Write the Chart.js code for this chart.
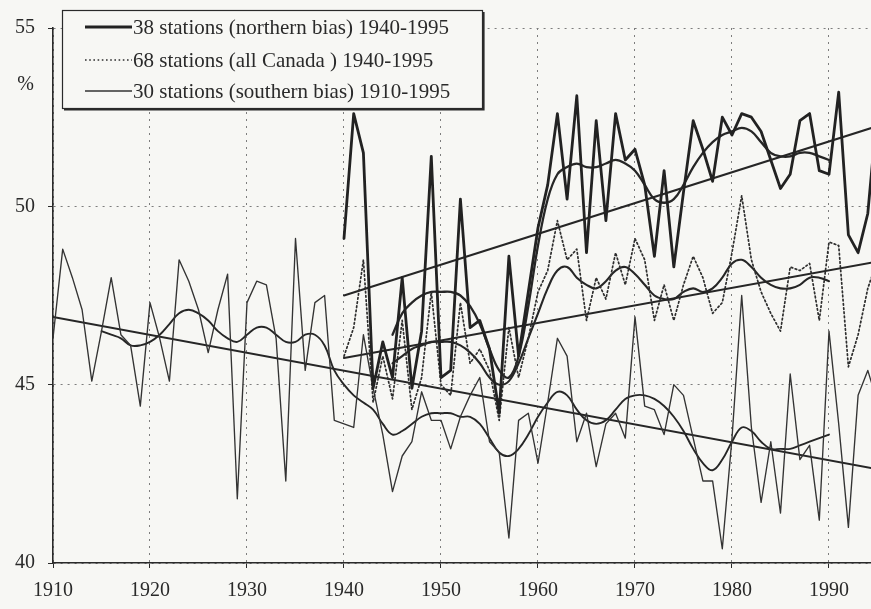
<!DOCTYPE html>
<html>
<head>
<meta charset="utf-8">
<script src="https://cdn.jsdelivr.net/npm/chart.js@4/dist/chart.umd.min.js"></script>
<style>
  html, body { margin: 0; padding: 0; background: #f7f7f4; }
  canvas { display: block; }
</style>
</head>
<body>
<canvas id="chart" width="871" height="609"></canvas>
<script>
// Annual values (%), one per year starting at the given first year
const northernFirstYear = 1940;
const northern = [
  49.1, 52.6, 51.5, 44.9, 46.2, 45.2, 48.0, 44.9, 46.5, 51.4,
  45.2, 45.4, 50.2, 46.6, 46.8, 46.0, 44.2, 48.6, 45.8, 47.6,
  49.4, 50.6, 52.6, 50.2, 53.1, 48.7, 52.4, 49.6, 52.6, 51.3,
  51.6, 50.6, 48.6, 51.0, 48.3, 50.4, 52.4, 51.6, 50.7, 52.5,
  52.0, 52.6, 52.5, 52.1, 51.3, 50.5, 50.9, 52.4, 52.6, 51.0,
  50.9, 53.2, 49.2, 48.7, 49.8, 52.8
];

const allCanadaFirstYear = 1940;
const allCanada = [
  45.8, 46.6, 48.5, 44.5, 45.8, 44.6, 46.8, 44.3, 45.2, 47.6,
  45.0, 44.7, 47.3, 45.6, 46.0, 45.4, 44.0, 46.6, 45.2, 46.3,
  47.6, 48.2, 49.6, 48.5, 48.8, 46.8, 48.0, 47.4, 48.7, 47.8,
  49.1, 48.5, 46.8, 47.8, 46.8, 47.8, 48.6, 48.0, 47.0, 47.3,
  48.7, 50.3, 48.5, 47.6, 47.0, 46.5, 48.3, 48.2, 48.4, 46.8,
  49.0, 48.9, 45.5, 46.4, 47.7, 48.5
];

const southernFirstYear = 1910;
const southern = [
  46.3, 48.8, 48.0, 47.1, 45.1, 46.5, 48.0, 46.4, 46.1, 44.4,
  47.3, 46.3, 45.1, 48.5, 47.9, 47.1, 45.9, 47.1, 48.1, 41.8,
  47.3, 47.9, 47.8, 46.3, 42.3, 49.1, 45.4, 47.3, 47.5, 44.0,
  43.9, 43.8, 46.4, 44.9, 43.6, 42.0, 43.0, 43.4, 44.8, 44.0,
  44.0, 43.2, 44.1, 44.7, 45.2, 43.4, 43.1, 40.7, 44.0, 44.2,
  42.8, 44.5, 46.3, 45.8, 43.4, 44.2, 42.7, 43.9, 44.2, 43.5,
  46.9, 44.4, 44.3, 43.6, 45.0, 44.7, 43.5, 42.3, 42.3, 40.4,
  43.5, 47.5, 43.8, 41.7, 43.4, 41.4, 45.3, 42.9, 43.3, 41.2,
  46.5, 43.9, 41.0, 44.7, 45.4, 44.5
];

// Smoothed curves
const northernSmoothFirstYear = 1945;
const northernSmooth = [
  46.4, 47.0, 47.3, 47.5, 47.6, 47.6, 47.6, 47.5, 47.2, 46.7,
  46.0, 45.4, 45.2, 45.8, 47.2, 48.9, 50.2, 50.9, 51.1, 51.2,
  51.1, 51.1, 51.2, 51.3, 51.2, 51.0, 50.6, 50.2, 50.1, 50.2,
  50.6, 51.1, 51.5, 51.8, 52.0, 52.1, 52.2, 52.1, 51.8, 51.5,
  51.4, 51.4, 51.5, 51.5, 51.4, 51.3
];

const allCanadaSmoothFirstYear = 1945;
const allCanadaSmooth = [
  45.6, 45.8, 46.0, 46.1, 46.2, 46.2, 46.2, 46.1, 45.9, 45.6,
  45.2, 45.0, 45.1, 45.6, 46.3, 47.0, 47.7, 48.2, 48.3, 48.0,
  47.8, 47.7, 47.9, 48.2, 48.3, 48.1, 47.8, 47.5, 47.4, 47.4,
  47.6, 47.7, 47.6, 47.7, 48.0, 48.4, 48.5, 48.3, 48.0, 47.8,
  47.7, 47.7, 47.8, 48.0, 48.0, 47.9
];

const southernSmoothFirstYear = 1915;
const southernSmooth = [
  46.5, 46.4, 46.3, 46.1, 46.1,
  46.2, 46.4, 46.7, 47.0, 47.1, 47.0, 46.8, 46.5, 46.3, 46.2,
  46.4, 46.6, 46.6, 46.4, 46.2, 46.2, 46.4, 46.4, 46.1, 45.4,
  45.0, 44.7, 44.5, 44.3, 43.9, 43.6, 43.7, 43.9, 44.1, 44.2,
  44.2, 44.2, 44.1, 44.1, 43.9, 43.5, 43.1, 43.0, 43.2, 43.6,
  44.1, 44.5, 44.8, 44.7, 44.3, 44.0, 43.9, 44.0, 44.3, 44.6,
  44.7, 44.7, 44.6, 44.4, 44.1, 43.7, 43.2, 42.8, 42.6, 42.9,
  43.4, 43.8, 43.7, 43.4, 43.2, 43.2, 43.2, 43.3, 43.4, 43.5,
  43.6
];

// Linear trends: [first year, last year] and [value at first, value at last]
const northernTrendYears = [1940, 1995];
const northernTrend = [47.5, 52.25];
const allCanadaTrendYears = [1940, 1995];
const allCanadaTrend = [45.75, 48.45];
const southernTrendYears = [1910, 1995];
const southernTrend = [46.9, 42.63];

const legendLabels = [
  '38 stations (northern bias) 1940-1995',
  '68 stations (all Canada ) 1940-1995',
  '30 stations (southern bias) 1910-1995'
];
const yTickValues = [40, 45, 50, 55];
const unitLabel = '%';

const FONT = "'Liberation Serif', 'Times New Roman', serif";
const INK = '#2a2a2a';
const BG = '#f7f7f4';

function annual(firstYear, values) {
  return values.map((v, i) => ({ x: firstYear + i, y: v }));
}
function pairs(years, values) {
  return years.map((yr, i) => ({ x: yr, y: values[i] }));
}

const backgroundPlugin = {
  id: 'paper',
  beforeDraw(chart) {
    const ctx = chart.ctx;
    ctx.save();
    ctx.fillStyle = BG;
    ctx.fillRect(0, 0, chart.width, chart.height);
    ctx.restore();
  }
};

const legendPlugin = {
  id: 'boxedLegend',
  afterDraw(chart) {
    const ctx = chart.ctx;
    const yScale = chart.scales.y;
    ctx.save();

    // unit label beside the value axis
    ctx.fillStyle = INK;
    ctx.font = '20px ' + FONT;
    ctx.textAlign = 'right';
    ctx.textBaseline = 'middle';
    ctx.fillText(unitLabel, 34, yScale.getPixelForValue(53.4));

    // legend frame
    const bx = 62, by = 10, bw = 420, bh = 98;
    ctx.fillStyle = BG;
    ctx.fillRect(bx, by, bw, bh);
    ctx.strokeStyle = INK;
    ctx.lineWidth = 1.2;
    ctx.strokeRect(bx + 0.5, by + 0.5, bw, bh);
    ctx.lineWidth = 2.2;
    ctx.beginPath();
    ctx.moveTo(bx + 2, by + bh + 1.5);
    ctx.lineTo(bx + bw + 1.5, by + bh + 1.5);
    ctx.lineTo(bx + bw + 1.5, by + 2);
    ctx.stroke();

    const rowsY = [27, 60, 91];
    chart.data.datasets.slice(0, 3).forEach((ds, i) => {
      const y = rowsY[i];
      ctx.strokeStyle = ds.borderColor;
      ctx.lineWidth = ds.borderWidth;
      ctx.setLineDash(ds.borderDash || []);
      ctx.beginPath();
      ctx.moveTo(85, y);
      ctx.lineTo(132, y);
      ctx.stroke();
      ctx.setLineDash([]);
      ctx.fillStyle = INK;
      ctx.font = '21px ' + FONT;
      ctx.textAlign = 'left';
      ctx.textBaseline = 'middle';
      ctx.fillText(ds.label, 133, y + 1);
    });
    ctx.restore();
  }
};

const lineBase = { pointRadius: 0, fill: false, borderJoinStyle: 'round', borderCapStyle: 'round' };

new Chart(document.getElementById('chart'), {
  type: 'line',
  data: {
    datasets: [
      Object.assign({}, lineBase, {
        label: legendLabels[0],
        data: annual(northernFirstYear, northern),
        borderColor: '#222222', borderWidth: 2.8, tension: 0
      }),
      Object.assign({}, lineBase, {
        label: legendLabels[1],
        data: annual(allCanadaFirstYear, allCanada),
        borderColor: '#2e2e2e', borderWidth: 1.7, borderDash: [1.6, 2.6], tension: 0
      }),
      Object.assign({}, lineBase, {
        label: legendLabels[2],
        data: annual(southernFirstYear, southern),
        borderColor: '#333333', borderWidth: 1.35, tension: 0
      }),
      Object.assign({}, lineBase, {
        label: 'northern smooth',
        data: annual(northernSmoothFirstYear, northernSmooth),
        borderColor: '#262626', borderWidth: 2.3, tension: 0.4
      }),
      Object.assign({}, lineBase, {
        label: 'all Canada smooth',
        data: annual(allCanadaSmoothFirstYear, allCanadaSmooth),
        borderColor: '#262626', borderWidth: 2.1, tension: 0.4
      }),
      Object.assign({}, lineBase, {
        label: 'southern smooth',
        data: annual(southernSmoothFirstYear, southernSmooth),
        borderColor: '#262626', borderWidth: 1.9, tension: 0.4
      }),
      Object.assign({}, lineBase, {
        label: 'northern trend',
        data: pairs(northernTrendYears, northernTrend),
        borderColor: '#262626', borderWidth: 2.0
      }),
      Object.assign({}, lineBase, {
        label: 'all Canada trend',
        data: pairs(allCanadaTrendYears, allCanadaTrend),
        borderColor: '#262626', borderWidth: 2.0
      }),
      Object.assign({}, lineBase, {
        label: 'southern trend',
        data: pairs(southernTrendYears, southernTrend),
        borderColor: '#262626', borderWidth: 2.0
      })
    ]
  },
  options: {
    responsive: false,
    animation: false,
    devicePixelRatio: 1,
    layout: { padding: { top: 28, right: 0, bottom: 0, left: 0 } },
    plugins: { legend: { display: false }, tooltip: { enabled: false } },
    scales: {
      x: {
        type: 'linear',
        min: 1910,
        max: 1994.33,
        afterFit(scale) { scale.height = 46; },
        ticks: {
          stepSize: 10,
          includeBounds: false,
          autoSkip: false,
          maxRotation: 0,
          padding: 11,
          color: INK,
          font: { family: FONT, size: 20 },
          callback: v => (v % 10 === 0 ? String(v) : '')
        },
        grid: { color: '#7d7d7d', lineWidth: 1, tickLength: 5, tickColor: INK, tickBorderDash: [] },
        border: { color: INK, width: 1.6, dash: [2, 5] }
      },
      y: {
        min: 40,
        max: 55,
        afterFit(scale) { scale.width = 53; },
        afterBuildTicks(scale) { scale.ticks = yTickValues.map(v => ({ value: v })); },
        ticks: {
          padding: 13,
          color: INK,
          font: { family: FONT, size: 20 },
          callback: v => String(v)
        },
        grid: { color: '#7d7d7d', lineWidth: 1, tickLength: 5, tickColor: INK, tickBorderDash: [] },
        border: { color: INK, width: 1.6, dash: [2, 5] }
      }
    }
  },
  plugins: [backgroundPlugin, legendPlugin]
});
</script>
</body>
</html>
